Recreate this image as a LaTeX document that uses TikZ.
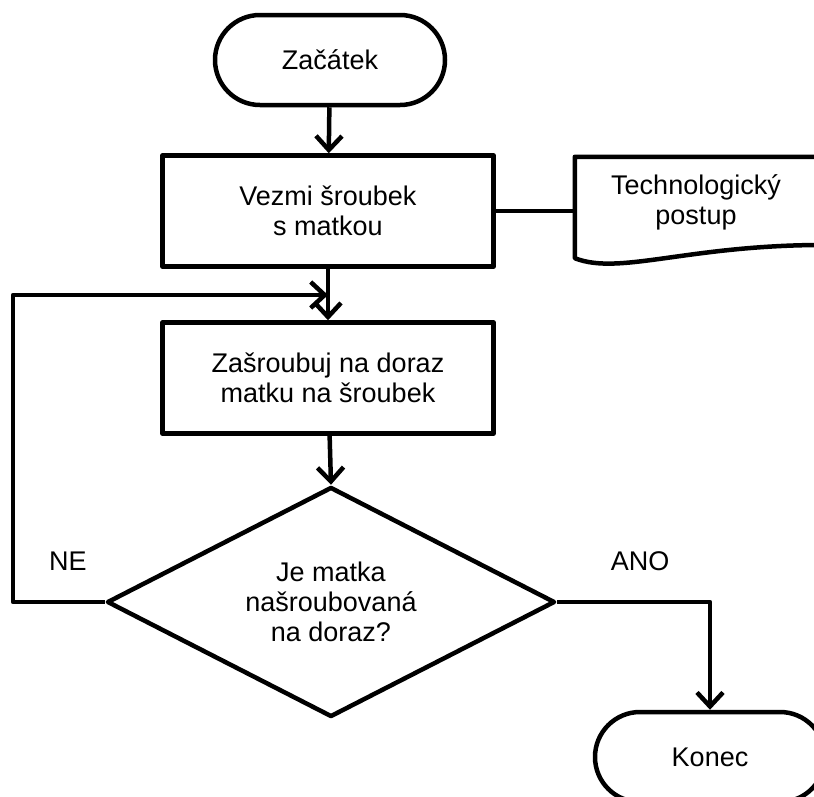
\documentclass[tikz,border=0pt]{standalone}
\usepackage{fontspec}
\setmainfont{Liberation Sans}
\usetikzlibrary{arrows.meta,shapes.geometric}

\tikzset{
  flow/.style={line width=4.5pt, line join=round},
  arr/.style={flow, -{Straight Barb[length=14pt,width=26pt,line width=4.5pt]}},
  terminal/.style={draw, flow, rectangle, rounded corners=45pt,
    minimum width=230pt, minimum height=90pt, inner sep=0pt, align=center},
  process/.style={draw, flow, rectangle, minimum width=331pt,
    minimum height=111pt, inner sep=0pt, align=center},
  decision/.style={draw, flow, diamond, aspect=1.95, minimum width=448pt,
    minimum height=230pt, inner sep=0pt, align=center},
  txt/.style={font=\fontsize{27}{30}\selectfont}
}

\begin{document}
\begin{tikzpicture}[x=1pt,y=-1pt,every node/.style={txt}]
\useasboundingbox (0,0) rectangle (814,796);

% main flow
\node[terminal] (start) at (330,60) {Začátek};
\node[process]  (take)  at (328,211) {Vezmi šroubek\\s matkou};
\node[process]  (screw) at (328,378) {Zašroubuj na doraz\\matku na šroubek};
\node[decision] (check) at (331,602) {Je matka\\našroubovaná\\na doraz?};
\node[terminal] (stop)  at (710,757) {Konec};

% document symbol
\node[minimum width=255pt, minimum height=101pt, inner sep=0pt] (doc) at (702.5,207.5) {};
\draw[flow] (doc.north east) -- (doc.north west) -- (doc.south west)
  .. controls (620,276) and (690,244) .. (doc.south east |- 0,245);
\node[align=center] (doctext) at (696,202) {Technologický\\postup};

% branch labels
\node (ne)  at (68,561)  {NE};
\node (ano) at (640,561) {ANO};

% connectors
\coordinate (loopL) at (13,295);
\coordinate (merge) at (328,295);
\draw[arr] (start) -- (take);
\draw[arr] (take) -- (screw);
\draw[flow] (take.east) -- (doc.west |- take.east);
\draw[arr] (screw) -- (check.north);
\draw[arr] (check.west) -- (loopL |- check.west) -- (loopL) -- (merge);
\draw[arr] (check.east) -- (stop.north |- check.east) -- (stop.north);
\end{tikzpicture}
\end{document}
